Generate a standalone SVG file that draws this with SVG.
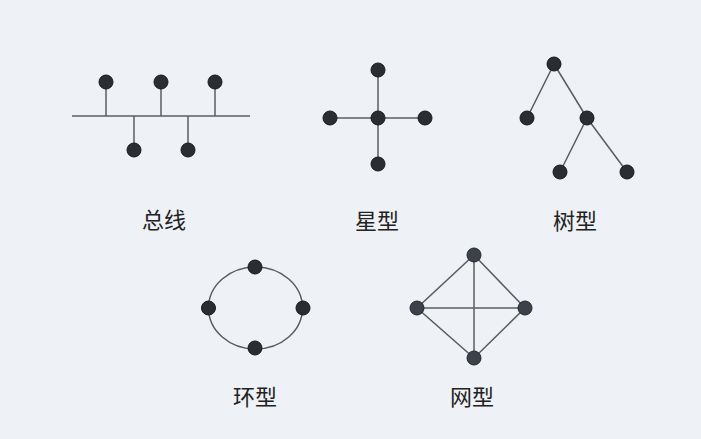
<svg xmlns="http://www.w3.org/2000/svg" width="701" height="439" viewBox="0 0 701 439">
<style>
.bg{fill:#eef1f5}
.ln{stroke:#5a5c60;stroke-width:1.5;fill:none}
.nd{fill:#2b2d31;stroke:#18191b;stroke-width:1}
.nd2{fill:#3c414a;stroke:#25282d;stroke-width:1}
.lb{font-family:"Noto Sans CJK SC","Noto Sans",sans-serif;font-size:22px;fill:#222;text-anchor:middle}
</style>
<rect class="bg" width="701" height="439"/>
<g id="connectors">
<line class="ln" x1="72" y1="116" x2="250" y2="116"/>
<line class="ln" x1="106" y1="83" x2="106" y2="116"/>
<line class="ln" x1="161" y1="83" x2="161" y2="116"/>
<line class="ln" x1="215" y1="83" x2="215" y2="116"/>
<line class="ln" x1="134" y1="116" x2="134" y2="150"/>
<line class="ln" x1="188" y1="116" x2="188" y2="150"/>
<line class="ln" x1="378" y1="70" x2="378" y2="164"/>
<line class="ln" x1="330" y1="118" x2="425" y2="118"/>
<line class="ln" x1="554" y1="64" x2="527" y2="118"/>
<line class="ln" x1="554" y1="64" x2="587" y2="118"/>
<line class="ln" x1="587" y1="118" x2="560" y2="172"/>
<line class="ln" x1="587" y1="118" x2="627" y2="172"/>
<ellipse class="ln" cx="255.5" cy="308" rx="47" ry="41"/>
<polygon class="ln" points="474,255 525,308 474,358 417,308"/>
<line class="ln" x1="474" y1="255" x2="474" y2="358"/>
<line class="ln" x1="417" y1="308" x2="525" y2="308"/>
</g>
<g id="bus">
<circle class="nd" cx="106" cy="82" r="7"/>
<circle class="nd" cx="161" cy="82" r="7"/>
<circle class="nd" cx="215" cy="82" r="7"/>
<circle class="nd" cx="134" cy="150" r="7"/>
<circle class="nd" cx="188" cy="150" r="7"/>
<text class="lb" x="164" y="228">总线</text>
</g>
<g id="star">
<circle class="nd" cx="378" cy="118" r="7"/>
<circle class="nd" cx="378" cy="70" r="7"/>
<circle class="nd" cx="378" cy="164" r="7"/>
<circle class="nd" cx="330" cy="118" r="7"/>
<circle class="nd" cx="425" cy="118" r="7"/>
<text class="lb" x="377" y="229">星型</text>
</g>
<g id="tree">
<circle class="nd" cx="554" cy="64" r="7"/>
<circle class="nd" cx="527" cy="118" r="7"/>
<circle class="nd" cx="587" cy="118" r="7"/>
<circle class="nd" cx="560" cy="172" r="7"/>
<circle class="nd" cx="627" cy="172" r="7"/>
<text class="lb" x="575" y="229">树型</text>
</g>
<g id="ring">
<circle class="nd" cx="255" cy="267" r="7"/>
<circle class="nd" cx="208.5" cy="308" r="7"/>
<circle class="nd" cx="303" cy="308" r="7"/>
<circle class="nd" cx="255" cy="348" r="7"/>
<text class="lb" x="255" y="405">环型</text>
</g>
<g id="mesh">
<circle class="nd2" cx="474" cy="255" r="7"/>
<circle class="nd2" cx="417" cy="308" r="7"/>
<circle class="nd2" cx="525" cy="308" r="7"/>
<circle class="nd2" cx="474" cy="358" r="7"/>
<text class="lb" x="472" y="405">网型</text>
</g>
</svg>
